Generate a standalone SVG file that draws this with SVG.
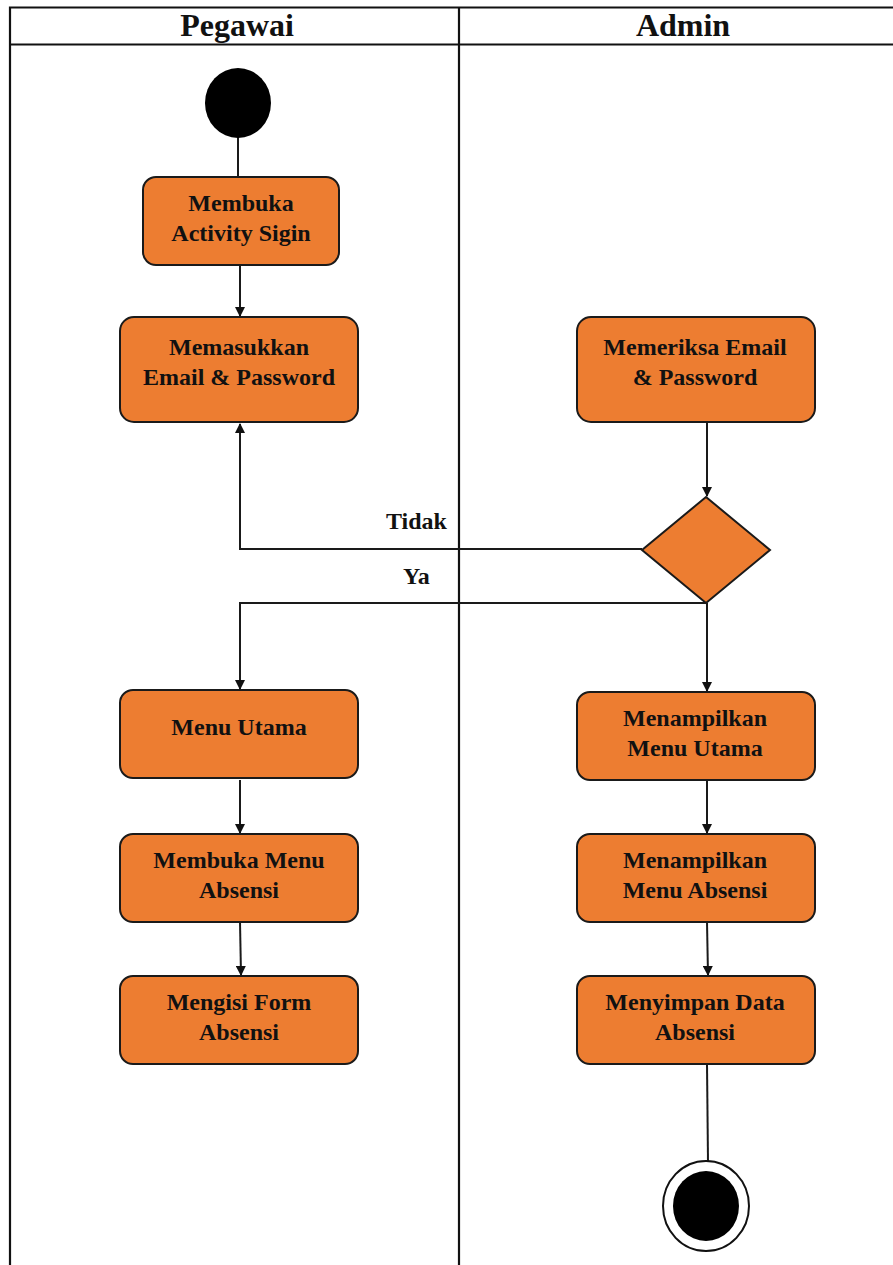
<svg xmlns="http://www.w3.org/2000/svg" width="893" height="1265" viewBox="0 0 893 1265">
  <style>
    .lane { fill: none; stroke: #111; stroke-width: 2.2; }
    .act { fill: #ED7D31; stroke: #1a1a1a; stroke-width: 2; }
    .lbl { font-family: "Liberation Serif", "Times New Roman", serif; font-weight: bold; font-size: 24px; fill: #111; text-anchor: middle; }
    .hdr { font-family: "Liberation Serif", "Times New Roman", serif; font-weight: bold; font-size: 32px; fill: #111; text-anchor: middle; }
    .edge { fill: none; stroke: #1a1a1a; stroke-width: 2; }
    .guard { font-family: "Liberation Serif", "Times New Roman", serif; font-weight: bold; font-size: 24px; fill: #111; }
  </style>
  <defs>
    <marker id="arrow" viewBox="0 0 10 10" refX="9" refY="5" markerWidth="5" markerHeight="5" orient="auto-start-reverse" markerUnits="strokeWidth">
      <path d="M0,0 L10,5 L0,10 z" fill="#111"/>
    </marker>
  </defs>
  <rect width="893" height="1265" fill="#fff"/>

  <!-- swimlanes -->
  <g id="swimlanes">
    <path class="lane" d="M10,1265 V7.5 H893 M10,44.5 H893 M459,7.5 V1265"/>
    <text class="hdr" x="237" y="36">Pegawai</text>
    <text class="hdr" x="683" y="36">Admin</text>
  </g>

  <!-- connectors -->
  <g id="connectors">
    <line class="edge" x1="238" y1="137" x2="238" y2="177"/>
    <line class="edge" x1="240" y1="265" x2="240" y2="316" marker-end="url(#arrow)"/>
    <line class="edge" x1="707" y1="422" x2="707" y2="496" marker-end="url(#arrow)"/>
    <polyline class="edge" points="642,549 240,549 240,424" marker-end="url(#arrow)"/>
    <polyline class="edge" points="707,603 240,603 240,689" marker-end="url(#arrow)"/>
    <line class="edge" x1="707" y1="603" x2="707" y2="691" marker-end="url(#arrow)"/>
    <line class="edge" x1="240" y1="780" x2="240" y2="833" marker-end="url(#arrow)"/>
    <line class="edge" x1="240" y1="922" x2="241" y2="975" marker-end="url(#arrow)"/>
    <line class="edge" x1="707" y1="780" x2="707" y2="833" marker-end="url(#arrow)"/>
    <line class="edge" x1="707" y1="922" x2="708" y2="975" marker-end="url(#arrow)"/>
    <line class="edge" x1="707" y1="1064" x2="708" y2="1162"/>
    <text class="guard" x="386" y="529">Tidak</text>
    <text class="guard" x="403" y="584">Ya</text>
  </g>

  <!-- start node -->
  <g id="start">
    <ellipse cx="238" cy="103" rx="33" ry="35" fill="#000"/>
  </g>

  <g id="membuka-activity-sigin">
    <rect class="act" x="143" y="177" width="196" height="88" rx="13"/>
    <text class="lbl" x="241" y="211">Membuka</text>
    <text class="lbl" x="241" y="241">Activity Sigin</text>
  </g>

  <g id="memasukkan-email-password">
    <rect class="act" x="120" y="317" width="238" height="105" rx="14"/>
    <text class="lbl" x="239" y="355">Memasukkan</text>
    <text class="lbl" x="239" y="385">Email &amp; Password</text>
  </g>

  <g id="memeriksa-email-password">
    <rect class="act" x="577" y="317" width="238" height="105" rx="14"/>
    <text class="lbl" x="695" y="355">Memeriksa Email</text>
    <text class="lbl" x="695" y="385">&amp; Password</text>
  </g>

  <g id="decision">
    <polygon class="act" points="706,497 770,550 706,603 642,550"/>
  </g>

  <g id="menu-utama">
    <rect class="act" x="120" y="690" width="238" height="88" rx="13"/>
    <text class="lbl" x="239" y="735">Menu Utama</text>
  </g>

  <g id="membuka-menu-absensi">
    <rect class="act" x="120" y="834" width="238" height="88" rx="13"/>
    <text class="lbl" x="239" y="868">Membuka Menu</text>
    <text class="lbl" x="239" y="898">Absensi</text>
  </g>

  <g id="mengisi-form-absensi">
    <rect class="act" x="120" y="976" width="238" height="88" rx="13"/>
    <text class="lbl" x="239" y="1010">Mengisi Form</text>
    <text class="lbl" x="239" y="1040">Absensi</text>
  </g>

  <g id="menampilkan-menu-utama">
    <rect class="act" x="577" y="692" width="238" height="88" rx="13"/>
    <text class="lbl" x="695" y="726">Menampilkan</text>
    <text class="lbl" x="695" y="756">Menu Utama</text>
  </g>

  <g id="menampilkan-menu-absensi">
    <rect class="act" x="577" y="834" width="238" height="88" rx="13"/>
    <text class="lbl" x="695" y="868">Menampilkan</text>
    <text class="lbl" x="695" y="898">Menu Absensi</text>
  </g>

  <g id="menyimpan-data-absensi">
    <rect class="act" x="577" y="976" width="238" height="88" rx="13"/>
    <text class="lbl" x="695" y="1010">Menyimpan Data</text>
    <text class="lbl" x="695" y="1040">Absensi</text>
  </g>

  <!-- end node -->
  <g id="end">
    <ellipse cx="706" cy="1206" rx="43" ry="45" fill="#fff" stroke="#111" stroke-width="2"/>
    <ellipse cx="706" cy="1206" rx="33" ry="35" fill="#000"/>
  </g>
</svg>
